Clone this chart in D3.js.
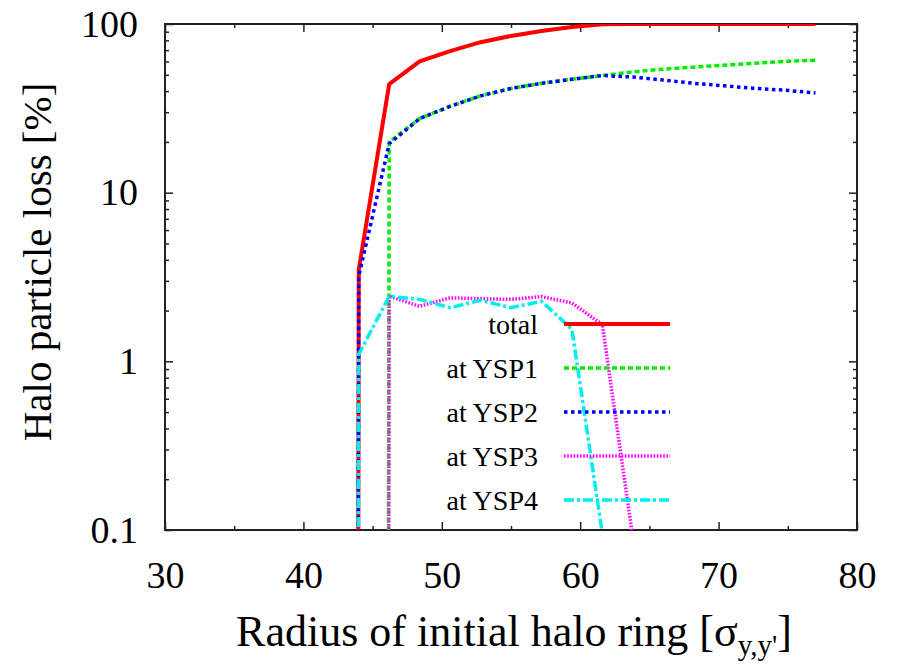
<!DOCTYPE html>
<html>
<head>
    <script src="https://d3js.org/d3.v7.min.js"></script>
    <style>
        svg text { font-family: 'Liberation Serif', 'Times New Roman', serif !important; }
    </style>
</head>
<body style="margin:0;background:#fff">
    <script>
        // radius of initial halo ring (sigma units)
        var radius = [41.8, 44, 46.2, 48.4, 50.6, 52.8, 55, 57.2, 59.4, 61.6, 63.8, 66, 68.2, 70.4, 72.6, 74.8, 77];

        // halo particle loss [%]
        var total = [0, 3.5, 44, 60, 69, 78, 85, 91, 96, 99.5, 100, 100, 100, 100, 100, 100, 100];
        var ysp1  = [0, 0, 20, 27.5, 32.5, 37.5, 41.5, 44.5, 47, 49.5, 52, 54, 55.5, 57, 58.5, 60, 61];
        var ysp2  = [0, 3.2, 19.5, 27.5, 32.5, 37.5, 41.5, 44.5, 47, 49.5, 48.5, 46.5, 44.5, 43, 41.5, 40.5, 39];
        var ysp3  = [0, 0, 2.43, 2.12, 2.38, 2.35, 2.33, 2.42, 2.22, 1.65, 0.09, 0, 0, 0, 0, 0, 0];
        var ysp4  = [0, 1.1, 2.43, 2.33, 2.08, 2.3, 2.08, 2.27, 1.55, 0.095, 0, 0, 0, 0, 0, 0, 0];

        var xTicks = [30, 40, 50, 60, 70, 80];
        var yTicks = [0.1, 1, 10, 100];

        var series = [
            {name: "total",   values: total, color: "#ff0000", dash: null,       width: 4},
            {name: "at YSP1", values: ysp1,  color: "#00ee00", dash: "5,3",      width: 3.5},
            {name: "at YSP2", values: ysp2,  color: "#0000ff", dash: "3.5,3.5",  width: 3.5},
            {name: "at YSP3", values: ysp3,  color: "#ff00ff", dash: "1.6,1.6",  width: 3.5},
            {name: "at YSP4", values: ysp4,  color: "#00eeee", dash: "10,3,3,3", width: 3.5}
        ];

        var width = 902, height = 671;
        var m = {left: 165, right: 857, top: 24, bottom: 530};
        var serif = "'Liberation Serif', 'Times New Roman', serif";

        var svg = d3.select("body").append("svg")
            .attr("width", width)
            .attr("height", height)
            .style("font-family", serif);

        var x = d3.scaleLinear().domain([30, 80]).range([m.left, m.right]);
        var y = d3.scaleLog().domain([0.1, 100]).range([m.bottom, m.top]);

        svg.append("clipPath").attr("id", "plot")
            .append("rect")
            .attr("x", m.left).attr("y", m.top)
            .attr("width", m.right - m.left).attr("height", m.bottom - m.top);

        // minor ticks
        var xMinor = d3.range(35, 80, 10);
        var yMinor = [];
        [0.1, 1, 10].forEach(function(d) {
            for (var k = 2; k <= 9; k++) yMinor.push(d * k);
        });

        var fmt = function(d) { return d < 1 ? "0.1" : d3.format("d")(d); };

        function frame(axis, tx, ty) {
            return svg.append("g")
                .attr("transform", "translate(" + tx + "," + ty + ")")
                .call(axis)
                .attr("font-family", null)
                .attr("font-size", null);
        }

        var axes = [
            frame(d3.axisBottom(x).tickValues(xTicks).tickSize(-8).tickPadding(31).tickFormat(d3.format("d")), 0, m.bottom),
            frame(d3.axisTop(x).tickValues(xTicks).tickSize(-8).tickFormat(""), 0, m.top),
            frame(d3.axisLeft(y).tickValues(yTicks).tickSize(-8).tickPadding(27).tickFormat(fmt), m.left, 0),
            frame(d3.axisRight(y).tickValues(yTicks).tickSize(-8).tickFormat(""), m.right, 0),
            frame(d3.axisBottom(x).tickValues(xMinor).tickSize(-4).tickFormat(""), 0, m.bottom),
            frame(d3.axisTop(x).tickValues(xMinor).tickSize(-4).tickFormat(""), 0, m.top),
            frame(d3.axisLeft(y).tickValues(yMinor).tickSize(-4).tickFormat(""), m.left, 0),
            frame(d3.axisRight(y).tickValues(yMinor).tickSize(-4).tickFormat(""), m.right, 0)
        ];

        axes.forEach(function(g) {
            g.select(".domain").remove();
            g.selectAll(".tick line").attr("stroke", "#222").attr("stroke-width", 1.5);
            g.selectAll(".tick text")
                .style("font-size", "38px")
                .style("fill", "#000");
        });

        svg.append("rect")
            .attr("x", m.left).attr("y", m.top)
            .attr("width", m.right - m.left).attr("height", m.bottom - m.top)
            .attr("fill", "none")
            .attr("stroke", "#222")
            .attr("stroke-width", 2);

        // zero loss sits far below the log axis, as the plotting program did
        var line = d3.line()
            .x(function(d, i) { return x(radius[i]); })
            .y(function(d) { return y(d > 0 ? d : 1e-100); });

        var plot = svg.append("g").attr("clip-path", "url(#plot)");
        var key = svg.append("g");

        series.forEach(function(s, i) {
            plot.append("path")
                .attr("d", line(s.values))
                .attr("fill", "none")
                .attr("stroke", s.color)
                .attr("stroke-width", s.width)
                .attr("stroke-dasharray", s.dash);

            var ky = 324 + i * 44;
            key.append("text")
                .attr("x", 538).attr("y", ky)
                .attr("dy", "0.35em")
                .attr("text-anchor", "end")
                .style("font-size", "28px")
                .text(s.name);
            key.append("line")
                .attr("x1", 564).attr("x2", 670)
                .attr("y1", ky).attr("y2", ky)
                .attr("stroke", s.color)
                .attr("stroke-width", s.width)
                .attr("stroke-dasharray", s.dash);
        });

        svg.append("text")
            .attr("transform", "translate(51,262) rotate(-90)")
            .attr("text-anchor", "middle")
            .style("font-size", "41px")
            .text("Halo particle loss [%]");

        var xl = svg.append("text")
            .attr("x", 514).attr("y", 646)
            .attr("text-anchor", "middle")
            .style("font-size", "44px");
        xl.append("tspan").text("Radius of initial halo ring [σ");
        xl.append("tspan").attr("dy", 9).style("font-size", "29px").text("y,y'");
        xl.append("tspan").attr("dy", -9).text("]");
    </script>
</body>
</html>
